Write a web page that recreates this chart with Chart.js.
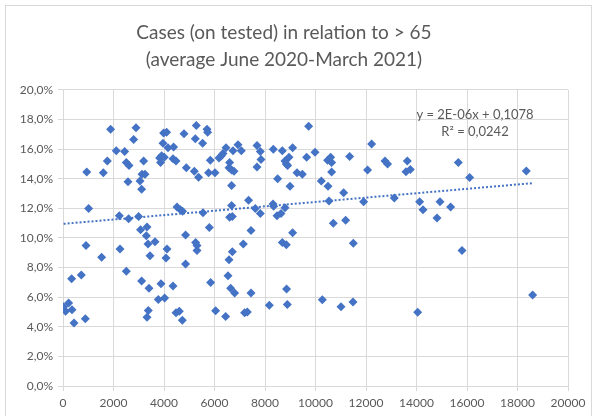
<!DOCTYPE html>
<html>
<head>
<meta charset="utf-8">
<script src="https://cdn.jsdelivr.net/npm/chart.js"></script>
<style>
  body { margin: 0; background: #fff; }
  #wrap { position: relative; width: 596px; height: 416px; overflow: hidden; }
  #frame { position: absolute; left: 5px; top: 5px; width: 585px; height: 420px; border: 1px solid #d9d9d9; }
  canvas { position: absolute; left: 0; top: 0; }
</style>
</head>
<body>
<div id="wrap">
  <div id="frame"></div>
  <canvas id="chart" width="596" height="416"></canvas>
</div>
<script>
// population > 65 (x) vs cases on tested in % (y)
var over65 = [24, 103, 222, 356, 436, 341, 725, 883, 910, 940, 1015, 1529, 1596, 1755, 1885,
  2110, 2230, 2257, 2440, 2507, 2614, 2574, 2598, 2507, 2891, 2796, 2994, 3049, 3113, 3129,
  3248, 3192, 3073, 3113, 3327, 3299, 3366, 3643, 3446, 3406, 3378, 3327, 3774, 3881, 4024,
  4079, 4119, 3826, 3905, 4012, 3865, 3960, 3984, 4103, 4158, 4380, 4356, 4475, 4356, 4475,
  4606, 4725, 4515, 4646, 4736, 4792, 4883, 4855, 4855, 5200, 5240, 5279, 5370, 5253, 5307,
  5307, 5529, 5545, 5703, 5727, 5766, 5794, 5834, 5846, 6020, 6044, 6178, 6273, 6337, 6455,
  6440, 6535, 6574, 6574, 6598, 6598, 6638, 6677, 6677, 6677, 6705, 6705, 6733, 6772, 6796,
  6931, 7061, 7141, 7192, 7299, 7350, 7446, 7446, 7616, 7683, 7683, 7814, 7842, 7814, 8170,
  8317, 8341, 8329, 8475, 8634, 8499, 8685, 8685, 8792, 8792, 8844, 8844, 8855, 8883, 8895,
  8950, 8990, 9094, 9094, 9267, 9477, 9648, 9727, 9980, 10230, 10269, 10479, 10598, 10638,
  10638, 10495, 10535, 10705, 11010, 11113, 11192, 11351, 11485, 11497, 11905, 12063, 12222,
  12752, 12855, 13121, 13584, 13636, 13754, 14046, 14123, 14257, 14812, 14931, 15351, 15656,
  15802, 16103, 18349, 18600];
var casesPct = [5.35, 5.05, 5.6, 5.15, 4.25, 7.25, 7.5, 4.55, 9.5, 14.45, 12.0, 8.7, 14.4, 15.2, 17.35,
  15.9, 11.5, 9.25, 15.85, 15.1, 14.9, 13.8, 11.3, 7.75, 17.45, 16.65, 11.45, 13.85, 13.3, 14.3,
  14.3, 15.2, 10.55, 7.1, 10.75, 10.15, 9.6, 9.75, 8.8, 6.6, 5.1, 4.65, 5.85, 6.9, 5.95,
  8.65, 9.25, 15.4, 15.55, 15.45, 15.1, 16.4, 17.1, 17.15, 16.1, 16.15, 15.35, 15.2, 6.75, 4.95,
  5.05, 4.45, 12.1, 11.9, 11.8, 17.05, 14.75, 10.2, 8.25, 14.5, 16.7, 17.6, 14.1, 9.7, 9.5,
  9.15, 16.4, 11.7, 17.35, 17.15, 14.4, 10.7, 15.25, 7.0, 14.4, 5.08, 15.4, 15.55, 15.7, 16.1,
  4.7, 7.45, 8.53, 14.75, 15.1, 11.4, 6.6, 14.6, 13.55, 12.2, 11.45, 9.07, 15.9, 14.5, 6.28,
  16.3, 15.9, 9.6, 4.95, 5.0, 12.55, 10.5, 6.28, 12.0, 16.25, 14.8, 15.85, 15.3, 11.65, 5.45,
  12.3, 12.15, 16.0, 11.5, 11.65, 14.0, 15.9, 9.7, 15.2, 12.05, 15.0, 9.55, 6.55, 5.5, 14.9,
  15.45, 13.5, 16.1, 10.35, 14.4, 14.3, 15.45, 17.55, 15.8, 13.85, 5.83, 15.25, 15.45, 15.1,
  14.45, 13.5, 12.5, 11.0, 5.35, 13.05, 11.2, 15.5, 5.67, 9.65, 12.45, 14.6, 16.35,
  15.2, 15.0, 12.7, 14.47, 15.2, 14.62, 4.99, 12.45, 11.9, 11.35, 12.45, 12.1, 15.1,
  9.15, 14.08, 14.52, 6.14];

var titleLines = ["Cases (on tested) in relation to > 65", "(average June 2020-March 2021)"];
var trendLabel = ["y = 2E-06x + 0,1078", "R\u00b2 = 0,0242"];

var points = over65.map(function (x, i) { return { x: x, y: casesPct[i] }; });

// linear trend line (least squares)
var n = points.length;
var sx = 0, sy = 0, sxx = 0, sxy = 0;
points.forEach(function (p) { sx += p.x; sy += p.y; sxx += p.x * p.x; sxy += p.x * p.y; });
var slope = (n * sxy - sx * sy) / (n * sxx - sx * sx);
var intercept = (sy - slope * sx) / n;
var minX = Math.min.apply(null, over65);
var maxX = Math.max.apply(null, over65);
var trend = [
  { x: minX, y: intercept + slope * minX },
  { x: maxX, y: intercept + slope * maxX },
];

var font = "Lato, 'Open Sans', sans-serif";
var grey = "#595959";

var trendText = {
  id: "trendText",
  afterDraw: function (chart) {
    var ctx = chart.ctx;
    ctx.save();
    ctx.fillStyle = grey;
    ctx.font = "13px " + font;
    ctx.textAlign = "center";
    ctx.textBaseline = "middle";
    ctx.fillText(trendLabel[0], 475, 115);
    ctx.fillText(trendLabel[1], 475, 132);
    ctx.restore();
  },
};

new Chart(document.getElementById("chart"), {
  type: "scatter",
  data: {
    datasets: [
      {
        data: points,
        pointStyle: "rectRot",
        pointRadius: 4.5,
        backgroundColor: "#4472C4",
        borderColor: "#4472C4",
        borderWidth: 0,
      },
      {
        type: "line",
        data: trend,
        borderColor: "#4472C4",
        borderWidth: 2,
        borderDash: [2, 2],
        pointRadius: 0,
        fill: false,
      },
    ],
  },
  options: {
    responsive: false,
    animation: false,
    events: [],
    layout: { padding: { left: 0, right: 28, top: 0, bottom: 0 } },
    plugins: {
      legend: { display: false },
      tooltip: { enabled: false },
      title: {
        display: true,
        text: titleLines,
        color: grey,
        font: { family: font, size: 19, weight: "normal", lineHeight: 1.42 },
        padding: { top: 19, bottom: 17 },
      },
    },
    scales: {
      x: {
        type: "linear",
        min: 0,
        max: 20000,
        ticks: {
          stepSize: 2000,
          color: grey,
          font: { family: font, size: 12 },
          maxRotation: 0,
          padding: 5,
          callback: function (v) { return String(v); },
        },
        grid: { color: "#d9d9d9", tickLength: 5 },
        border: { color: "#d9d9d9" },
        afterFit: function (s) { s.height = 30; },
      },
      y: {
        min: 0,
        max: 20,
        ticks: {
          stepSize: 2,
          color: grey,
          font: { family: font, size: 12 },
          padding: 5,
          callback: function (v) { return v.toFixed(1).replace(".", ",") + "%"; },
        },
        grid: { color: "#d9d9d9", tickLength: 5 },
        border: { color: "#d9d9d9" },
        afterFit: function (s) { s.width = 63; },
      },
    },
  },
  plugins: [trendText],
});
</script>
</body>
</html>
